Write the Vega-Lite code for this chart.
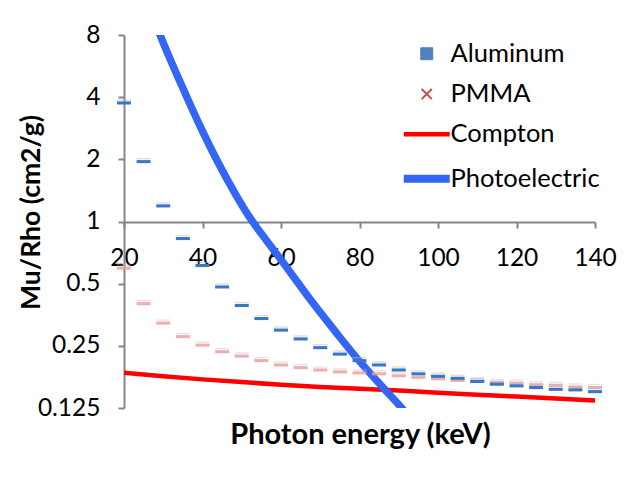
{
  "$schema": "https://vega.github.io/schema/vega-lite/v6.json",
  "width": 471,
  "height": 373,
  "autosize": {"type": "none"},
  "padding": {"left": 124, "top": 35, "right": 41, "bottom": 70},
  "background": "white",
  "config": {"view": {"stroke": null}, "font": "Lato"},
  "datasets": {
    "al": [
      {"E": 20, "mu": 3.75}, {"E": 25, "mu": 1.95}, {"E": 30, "mu": 1.19}, {"E": 35, "mu": 0.827},
      {"E": 40, "mu": 0.612}, {"E": 45, "mu": 0.482}, {"E": 50, "mu": 0.392}, {"E": 55, "mu": 0.339},
      {"E": 60, "mu": 0.298}, {"E": 65, "mu": 0.27}, {"E": 70, "mu": 0.245}, {"E": 75, "mu": 0.228},
      {"E": 80, "mu": 0.212}, {"E": 85, "mu": 0.202}, {"E": 90, "mu": 0.191}, {"E": 95, "mu": 0.183},
      {"E": 100, "mu": 0.178}, {"E": 105, "mu": 0.174}, {"E": 110, "mu": 0.168}, {"E": 115, "mu": 0.163},
      {"E": 120, "mu": 0.16}, {"E": 125, "mu": 0.157}, {"E": 130, "mu": 0.154}, {"E": 135, "mu": 0.153},
      {"E": 140, "mu": 0.15}
    ],
    "pmma": [
      {"E": 20, "mu": 0.595}, {"E": 25, "mu": 0.4}, {"E": 30, "mu": 0.322}, {"E": 35, "mu": 0.277},
      {"E": 40, "mu": 0.252}, {"E": 45, "mu": 0.234}, {"E": 50, "mu": 0.223}, {"E": 55, "mu": 0.212},
      {"E": 60, "mu": 0.202}, {"E": 65, "mu": 0.196}, {"E": 70, "mu": 0.191}, {"E": 75, "mu": 0.187},
      {"E": 80, "mu": 0.185}, {"E": 85, "mu": 0.183}, {"E": 90, "mu": 0.179}, {"E": 95, "mu": 0.176},
      {"E": 100, "mu": 0.173}, {"E": 105, "mu": 0.17}, {"E": 110, "mu": 0.169}, {"E": 115, "mu": 0.166},
      {"E": 120, "mu": 0.165}, {"E": 125, "mu": 0.162}, {"E": 130, "mu": 0.161}, {"E": 135, "mu": 0.158},
      {"E": 140, "mu": 0.157}
    ],
    "compton": [
      {"E": 20, "mu": 0.185, "series": "Compton"}, {"E": 30, "mu": 0.178, "series": "Compton"},
      {"E": 40, "mu": 0.172, "series": "Compton"}, {"E": 50, "mu": 0.167, "series": "Compton"},
      {"E": 60, "mu": 0.162, "series": "Compton"}, {"E": 70, "mu": 0.158, "series": "Compton"},
      {"E": 80, "mu": 0.155, "series": "Compton"}, {"E": 90, "mu": 0.152, "series": "Compton"},
      {"E": 100, "mu": 0.148, "series": "Compton"}, {"E": 110, "mu": 0.145, "series": "Compton"},
      {"E": 120, "mu": 0.142, "series": "Compton"}, {"E": 130, "mu": 0.139, "series": "Compton"},
      {"E": 140, "mu": 0.136, "series": "Compton"}
    ],
    "photo": [
      {"E": 26.63, "mu": 10.57, "series": "Photoelectric"}, {"E": 28.99, "mu": 8.15, "series": "Photoelectric"},
      {"E": 32.15, "mu": 5.84, "series": "Photoelectric"}, {"E": 35.97, "mu": 4.02, "series": "Photoelectric"},
      {"E": 39.8, "mu": 2.77, "series": "Photoelectric"}, {"E": 44.03, "mu": 1.91, "series": "Photoelectric"},
      {"E": 48.71, "mu": 1.318, "series": "Photoelectric"}, {"E": 52.54, "mu": 0.998, "series": "Photoelectric"},
      {"E": 60.18, "mu": 0.651, "series": "Photoelectric"}, {"E": 67.39, "mu": 0.417, "series": "Photoelectric"},
      {"E": 74.19, "mu": 0.288, "series": "Photoelectric"}, {"E": 79.62, "mu": 0.213, "series": "Photoelectric"},
      {"E": 86.93, "mu": 0.15, "series": "Photoelectric"}, {"E": 90.83, "mu": 0.125, "series": "Photoelectric"},
      {"E": 92.87, "mu": 0.112, "series": "Photoelectric"}
    ]
  },
  "encoding": {
    "x": {
      "field": "E", "type": "quantitative",
      "scale": {"domain": [20, 140], "nice": false, "zero": false},
      "axis": {
        "values": [20, 40, 60, 80, 100, 120, 140],
        "offset": -186,
        "grid": false,
        "domainColor": "#868686", "domainWidth": 2,
        "tickColor": "#868686", "tickWidth": 2, "tickSize": 6,
        "labelFont": "Lato", "labelFontSize": 24.5, "labelColor": "black", "labelPadding": 18,
        "labelOverlap": false, "labelBound": false, "labelFlush": false,
        "title": "Photon energy (keV)",
        "titleFont": "Lato", "titleFontSize": 29, "titleFontWeight": "bold", "titleColor": "black",
        "titleX": 236, "titleY": 221, "titleBaseline": "alphabetic", "titleAlign": "center"
      }
    },
    "y": {
      "field": "mu", "type": "quantitative",
      "scale": {"type": "log", "base": 2, "domain": [0.125, 8], "nice": false},
      "axis": {
        "values": [0.125, 0.25, 0.5, 1, 2, 4, 8],
        "format": "~g",
        "grid": false,
        "domainColor": "#868686", "domainWidth": 2,
        "tickColor": "#868686", "tickWidth": 2, "tickSize": 6,
        "labelFont": "Lato", "labelFontSize": 24.5, "labelColor": "black", "labelPadding": 18,
        "labelOverlap": false, "labelBound": false, "labelFlush": false,
        "title": "Mu/Rho (cm2/g)",
        "titleFont": "Lato", "titleFontSize": 26.5, "titleFontWeight": "bold", "titleColor": "black",
        "titleX": -93, "titleY": 177, "titleBaseline": "middle", "titleAlign": "center", "titleAngle": -90
      }
    }
  },
  "layer": [
    {
      "data": {"name": "compton"},
      "mark": {"type": "line", "strokeWidth": 4.5, "clip": true},
      "encoding": {
        "color": {
          "field": "series", "type": "nominal",
          "scale": {"domain": ["Aluminum", "PMMA", "Compton", "Photoelectric"], "range": ["#4f81bd", "#c0504d", "#ff0000", "#3366f5"]},
          "legend": {
            "title": null, "orient": "none", "legendX": 290, "legendY": 6, "padding": 0,
            "labelFont": "Lato", "labelFontSize": 25.5, "labelColor": "black", "labelOffset": 11,
            "symbolSize": 2116, "rowPadding": 13.3,
            "symbolType": {"expr": "datum.value === 'Aluminum' ? 'M-0.26,-0.26L0.26,-0.26L0.26,0.26L-0.26,0.26Z' : datum.value === 'PMMA' ? 'M-0.22,-0.22L0.22,0.22M-0.22,0.22L0.22,-0.22' : 'stroke'"},
            "symbolStrokeWidth": {"expr": "datum.value === 'Aluminum' ? 1 : datum.value === 'PMMA' ? 2 : datum.value === 'Compton' ? 4.5 : 8"},
            "symbolFillColor": {"expr": "datum.value === 'Aluminum' ? '#4f81bd' : 'transparent'"}
          }
        }
      }
    },
    {
      "data": {"name": "photo"},
      "mark": {"type": "line", "strokeWidth": 7.5, "clip": true, "interpolate": "basis"},
      "encoding": {"color": {"field": "series", "type": "nominal"}}
    },
    {
      "data": {"name": "pmma"},
      "mark": {"type": "point", "shape": "M-1,-0.1L1,-0.1L1,0.1L-1,0.1Z", "filled": true, "size": 196, "color": "#bdbdbd", "opacity": 0.4, "yOffset": -3}
    },
    {
      "data": {"name": "pmma"},
      "mark": {"type": "point", "shape": "M-1,-0.22L1,-0.22L1,0.22L-1,0.22Z", "filled": true, "size": 196, "color": "#eaa0a0", "opacity": 0.85}
    },
    {
      "data": {"name": "al"},
      "mark": {"type": "point", "shape": "M-1,-0.1L1,-0.1L1,0.1L-1,0.1Z", "filled": true, "size": 196, "color": "#bdbdbd", "opacity": 0.5, "yOffset": -3}
    },
    {
      "data": {"name": "al"},
      "mark": {"type": "point", "shape": "M-1,-0.22L1,-0.22L1,0.22L-1,0.22Z", "filled": true, "size": 196, "color": "#3a76c6", "opacity": 1}
    }
  ]
}
